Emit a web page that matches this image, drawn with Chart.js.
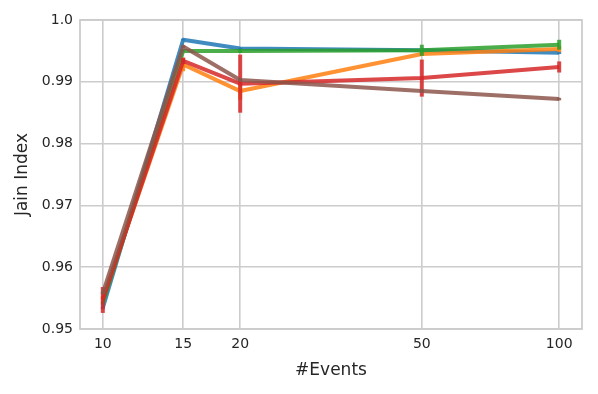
<!DOCTYPE html>
<html><head><meta charset="utf-8">
<script src="https://cdn.jsdelivr.net/npm/chart.js@4"></script>
<style>html,body{margin:0;padding:0;background:#fff;}</style>
</head><body>
<canvas id="c" width="598" height="394" style="width:598px;height:394px;display:block"></canvas>
<script>
const events = [10, 15, 20, 50, 100];
const xTickValues = [10, 15, 20, 50, 100];
const yTickValues = [0.95, 0.96, 0.97, 0.98, 0.99, 1.0];

const blueVals   = [0.9534, 0.9968, 0.9954, 0.9951, 0.9947];
const orangeVals = [0.9550, 0.9928, 0.9885, 0.9945, 0.9953];
const greenVals  = [0.9542, 0.9950, 0.9950, 0.9951, 0.9960];
const redVals    = [0.9547, 0.9934, 0.9897, 0.9906, 0.9924];
const brownVals  = [0.9558, 0.9957, 0.9903, 0.9885, 0.9872];

const blueErr   = [0.0002, 0.0001, 0.0001, 0.0001, 0.0002];
const orangeErr = [0.0003, 0.0011, 0.0014, 0.0003, 0.0005];
const greenErr  = [0.0003, 0.0002, 0.0003, 0.0009, 0.0008];
const redErr    = [0.0021, 0.0005, 0.0047, 0.0030, 0.0009];
const brownErr  = [0.0002, 0.0002, 0.0002, 0.0002, 0.0002];

const series = [
  {vals: blueVals,   err: blueErr,   color: 'rgba(31,119,180,0.85)'},
  {vals: orangeVals, err: orangeErr, color: 'rgba(255,127,14,0.85)'},
  {vals: greenVals,  err: greenErr,  color: 'rgba(44,160,44,0.85)'},
  {vals: redVals,    err: redErr,    color: 'rgba(214,39,40,0.85)'},
  {vals: brownVals,  err: brownErr,  color: 'rgba(140,86,75,0.85)'}
];

const datasets = series.map((s, i) => ({
  data: events.map((x, j) => ({x: x, y: s.vals[j]})),
  errs: s.err,
  borderColor: s.color,
  backgroundColor: s.color,
  borderWidth: 4,
  pointRadius: 0,
  tension: 0,
  fill: false,
  borderJoinStyle: 'round',
  borderCapStyle: 'butt',
  order: series.length - i
}));

const gridColor = '#cccccc';
const textColor = '#262626';

const errorBarPlugin = {
  id: 'errorBars',
  afterDatasetDraw(chart, args) {
    const ds = chart.data.datasets[args.index];
    const xs = chart.scales.x, ys = chart.scales.y;
    const ctx = chart.ctx;
    ctx.save();
    ctx.strokeStyle = ds.borderColor;
    ctx.lineWidth = 4;
    ctx.lineCap = 'butt';
    ds.data.forEach((p, j) => {
      const e = ds.errs[j];
      const px = xs.getPixelForValue(p.x);
      ctx.beginPath();
      ctx.moveTo(px, ys.getPixelForValue(p.y - e));
      ctx.lineTo(px, ys.getPixelForValue(p.y + e));
      ctx.stroke();
    });
    ctx.restore();
  }
};

const framePlugin = {
  id: 'frame',
  beforeDatasetsDraw(chart) {
    const a = chart.chartArea, ctx = chart.ctx;
    ctx.save();
    ctx.strokeStyle = gridColor;
    ctx.lineWidth = 1.8;
    ctx.strokeRect(a.left, a.top, a.right - a.left, a.bottom - a.top);
    ctx.restore();
  }
};

new Chart(document.getElementById('c'), {
  type: 'line',
  data: {datasets: datasets},
  plugins: [errorBarPlugin, framePlugin],
  options: {
    responsive: false,
    devicePixelRatio: 1,
    animation: false,
    layout: {padding: {left: 0, right: 16, top: 20, bottom: 0}},
    plugins: {legend: {display: false}, tooltip: {enabled: false}},
    scales: {
      x: {
        type: 'logarithmic',
        min: 8.913,
        max: 112.2,
        afterBuildTicks: (scale) => { scale.ticks = xTickValues.map(v => ({value: v})); },
        afterFit: (scale) => { scale.height = 65; },
        ticks: {
          autoSkip: false, maxRotation: 0, padding: 7,
          color: textColor,
          font: {family: 'DejaVu Sans', size: 14},
          callback: (v) => String(v)
        },
        grid: {color: gridColor, lineWidth: 1.6, drawTicks: false},
        border: {display: false},
        title: {
          display: true, text: '#Events', color: textColor,
          font: {family: 'DejaVu Sans', size: 17},
          padding: {top: 0, bottom: 13}
        }
      },
      y: {
        type: 'linear',
        min: 0.95,
        max: 1.0,
        afterBuildTicks: (scale) => { scale.ticks = yTickValues.map(v => ({value: v})); },
        afterFit: (scale) => { scale.width = 80; },
        ticks: {
          padding: 7,
          color: textColor,
          font: {family: 'DejaVu Sans', size: 14},
          callback: (v) => (Math.abs(v - 1) < 1e-9 ? '1.0' : Number(v).toFixed(2))
        },
        grid: {color: gridColor, lineWidth: 1.6, drawTicks: false},
        border: {display: false},
        title: {
          display: true, text: 'Jain Index', color: textColor,
          font: {family: 'DejaVu Sans', size: 17},
          padding: {top: 12, bottom: 0}
        }
      }
    }
  }
});
</script>
</body></html>
